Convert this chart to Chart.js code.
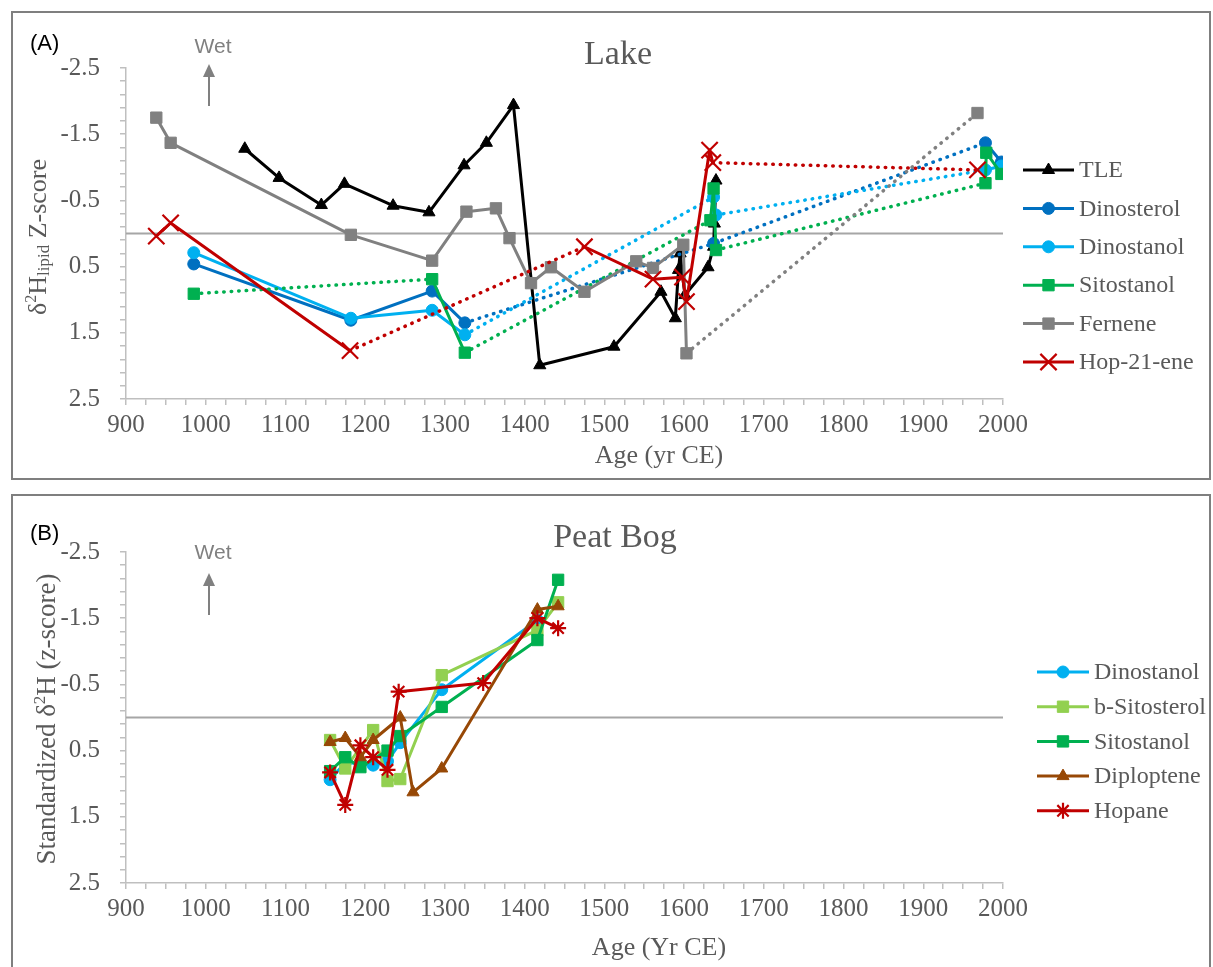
<!DOCTYPE html>
<html lang="en">
<head>
<meta charset="UTF-8">
<title>Lake and Peat Bog lipid δ2H z-scores</title>
<script src="https://cdn.jsdelivr.net/npm/chart.js@4"></script>
<style>
  body { margin: 0; background: #fff; width: 1213px; height: 967px; overflow: hidden; position: relative; }
  .box { position: absolute; border: 2px solid #7f7f7f; box-sizing: border-box; }
  canvas { position: absolute; }
</style>
</head>
<body>
<div class="box" style="left:11px;top:11px;width:1200px;height:469px"></div>
<div class="box" style="left:11px;top:494px;width:1200px;height:490px"></div>
<canvas id="lake" width="1195" height="463" style="left:13px;top:13px"></canvas>
<canvas id="peat" width="1195" height="471" style="left:13px;top:496px"></canvas>
<script>
// ---- panel A: Lake ----
const tleAge = [1049, 1092, 1145, 1174, 1235, 1280, 1324, 1352, 1386, 1419, 1512, 1571, 1589, 1593, 1595, 1601, 1630, 1637, 1638, 1640];
const tleZ   = [-1.28, -0.84, -0.43, -0.75, -0.42, -0.32, -1.03, -1.37, -1.94, 1.99, 1.71, 0.88, 1.28, 0.55, 0.30, 0.93, 0.51, 0.20, -0.15, -0.80];

const dinosterolAge = [985, 1182, 1284, 1325, 1637, 1978, 1998];
const dinosterolZ   = [0.46, 1.31, 0.87, 1.35, 0.15, -1.37, -1.08];
const dinosterolDots = [3, 4];

const dinostanolAge = [985, 1182, 1284, 1325, 1637, 1640, 1978, 1998];
const dinostanolZ   = [0.29, 1.28, 1.16, 1.53, -0.55, -0.28, -0.96, -1.02];
const dinostanolDots = [3, 5];

const sitostanolAge = [985, 1284, 1325, 1633, 1637, 1640, 1978, 1979, 1998];
const sitostanolZ   = [0.91, 0.69, 1.80, -0.20, -0.68, 0.25, -0.76, -1.22, -0.90];
const sitostanolDots = [0, 2, 5];

const ferneneAge = [938, 956, 1182, 1284, 1327, 1364, 1381, 1408, 1433, 1475, 1540, 1561, 1599, 1603, 1968];
const ferneneZ   = [-1.75, -1.37, 0.02, 0.41, -0.33, -0.38, 0.07, 0.75, 0.51, 0.88, 0.42, 0.52, 0.17, 1.81, -1.82];
const ferneneDots = [13];

const hopeneAge = [938, 956, 1181, 1475, 1561, 1598, 1603, 1632, 1636, 1968];
const hopeneZ   = [0.04, -0.16, 1.77, 0.20, 0.69, 0.66, 1.03, -1.26, -1.07, -0.96];
const hopeneDots = [2, 8];

// ---- panel B: Peat Bog ----
const bDinostanolAge = [1156, 1175, 1194, 1210, 1228, 1244, 1296, 1416];
const bDinostanolZ   = [0.94, 0.68, 0.70, 0.72, 0.66, 0.38, -0.42, -1.47];

const bSitosterolAge = [1156, 1175, 1210, 1228, 1244, 1296, 1416, 1442];
const bSitosterolZ   = [0.34, 0.77, 0.19, 0.96, 0.93, -0.64, -1.32, -1.74];

const bSitostanolAge = [1156, 1175, 1194, 1228, 1244, 1296, 1416, 1442];
const bSitostanolZ   = [0.81, 0.60, 0.75, 0.50, 0.28, -0.16, -1.17, -2.08];

const diplopteneAge = [1156, 1175, 1194, 1210, 1244, 1260, 1296, 1416, 1442];
const diplopteneZ   = [0.37, 0.31, 0.60, 0.34, 0.00, 1.13, 0.77, -1.63, -1.68];

const hopaneAge = [1156, 1175, 1194, 1210, 1228, 1242, 1348, 1416, 1442];
const hopaneZ   = [0.83, 1.32, 0.42, 0.60, 0.79, -0.39, -0.52, -1.50, -1.35];

// axis ranges
const ageMin = 900, ageMax = 2000, ageStep = 25, ageLabelStep = 100;
const zMin = -2.5, zMax = 2.5, zStep = 0.2;

const SERIF = '"Liberation Serif", "Times New Roman", serif';
const SANS = '"Liberation Sans", Arial, sans-serif';
const TXT = '#595959';

function pts(xs, ys) {
  return xs.map((x, i) => ({ x: x, y: ys[i] }));
}

function series(label, xs, ys, color, style, radius, dots) {
  const d = dots || [];
  return {
    label: label,
    data: pts(xs, ys),
    borderColor: color,
    backgroundColor: color,
    borderWidth: 3,
    pointStyle: style,
    pointRadius: radius,
    pointBorderWidth: style === 'crossRot' || style === 'star' ? 2.2 : 1,
    pointHoverRadius: radius,
    tension: 0,
    borderJoinStyle: 'round',
    borderCapStyle: 'round',
    segment: {
      // dotted joins between sample groups
      borderDash: c => d.includes(c.p0DataIndex) ? [0.5, 7] : undefined,
      borderWidth: c => d.includes(c.p0DataIndex) ? 3.5 : undefined
    }
  };
}

function drawParts(ctx, cx, cy, parts) {
  // parts drawn along a rotated (-90deg) baseline, centred on (cx, cy)
  ctx.save();
  ctx.translate(cx, cy);
  ctx.rotate(-Math.PI / 2);
  ctx.textBaseline = 'middle';
  ctx.textAlign = 'left';
  let w = 0;
  parts.forEach(p => { ctx.font = p.size + 'px ' + SERIF; p.w = ctx.measureText(p.t).width; w += p.w; });
  let x = -w / 2;
  parts.forEach(p => { ctx.font = p.size + 'px ' + SERIF; ctx.fillText(p.t, x, p.dy); x += p.w; });
  ctx.restore();
}

function decoPlugin(o) {
  return {
    id: 'deco',
    beforeDatasetsDraw(chart) {
      const ctx = chart.ctx, a = chart.chartArea;
      const y0 = chart.scales.y.getPixelForValue(0);
      ctx.save();
      ctx.strokeStyle = '#a6a6a6';
      ctx.lineWidth = 2;
      ctx.beginPath();
      ctx.moveTo(a.left, y0);
      ctx.lineTo(a.right, y0);
      ctx.stroke();
      ctx.restore();
    },
    afterDraw(chart) {
      const ctx = chart.ctx;
      ctx.save();
      ctx.fillStyle = TXT;
      // chart title
      ctx.font = '34px ' + SERIF;
      ctx.textAlign = 'center';
      ctx.textBaseline = 'middle';
      ctx.fillText(o.title, o.titleX, o.titleY);
      // panel letter
      ctx.fillStyle = '#000';
      ctx.font = '22px ' + SANS;
      ctx.textAlign = 'left';
      ctx.fillText(o.letter, o.letterX, o.letterY);
      // Wet arrow
      ctx.fillStyle = '#808080';
      ctx.strokeStyle = '#808080';
      ctx.font = '21px ' + SANS;
      ctx.textAlign = 'center';
      ctx.fillText('Wet', o.wetX + 4, o.wetY);
      ctx.lineWidth = 2;
      ctx.beginPath();
      ctx.moveTo(o.wetX, o.arrowTail);
      ctx.lineTo(o.wetX, o.arrowTip + 10);
      ctx.stroke();
      ctx.beginPath();
      ctx.moveTo(o.wetX, o.arrowTip);
      ctx.lineTo(o.wetX - 6, o.arrowTip + 13);
      ctx.lineTo(o.wetX + 6, o.arrowTip + 13);
      ctx.closePath();
      ctx.fill();
      // axis titles
      ctx.fillStyle = TXT;
      ctx.font = '26px ' + SERIF;
      ctx.textBaseline = 'middle';
      ctx.fillText(o.xTitle, o.xTitleX, o.xTitleY);
      drawParts(ctx, o.yTitleX, o.yTitleY, o.yTitle);
      // legend: line with marker, then label
      chart.data.datasets.forEach((ds, i) => {
        const y = o.legTop + i * o.legStep;
        ctx.strokeStyle = ds.borderColor;
        ctx.fillStyle = ds.backgroundColor;
        ctx.lineWidth = 3;
        ctx.setLineDash([]);
        ctx.beginPath();
        ctx.moveTo(o.legX0, y);
        ctx.lineTo(o.legX1, y);
        ctx.stroke();
        ctx.lineWidth = ds.pointBorderWidth;
        Chart.helpers.drawPoint(ctx, {
          pointStyle: ds.pointStyle, radius: ds.pointRadius, rotation: 0, borderWidth: ds.pointBorderWidth
        }, (o.legX0 + o.legX1) / 2, y);
        ctx.fillStyle = TXT;
        ctx.font = '24px ' + SERIF;
        ctx.textAlign = 'left';
        ctx.textBaseline = 'middle';
        ctx.fillText(ds.label, o.legX1 + 5, y + 1);
      });
      ctx.restore();
    }
  };
}

function makeChart(id, datasets, o) {
  const n = datasets.length;
  datasets.forEach((ds, i) => { ds.order = n - i; });  // later series on top
  return new Chart(document.getElementById(id), {
    type: 'line',
    data: { datasets: datasets },
    options: {
      responsive: false,
      animation: false,
      events: [],
      layout: { padding: { left: 0, top: o.padTop, right: o.padRight, bottom: 0 } },
      plugins: { legend: { display: false }, tooltip: { enabled: false }, title: { display: false } },
      scales: {
        x: {
          type: 'linear',
          min: ageMin, max: ageMax,
          afterFit: s => { s.height = o.xHeight; },
          border: { color: '#bfbfbf', width: 1.5 },
          grid: { drawOnChartArea: false, drawTicks: true, tickLength: 6, color: '#bfbfbf', lineWidth: 1.5 },
          ticks: {
            stepSize: ageStep, autoSkip: false, maxRotation: 0, minRotation: 0, padding: 5,
            color: TXT, font: { family: SERIF, size: 25 },
            callback: v => (v % ageLabelStep === 0 ? String(v) : '')
          }
        },
        y: {
          type: 'linear',
          reverse: true,
          min: zMin, max: zMax,
          afterFit: s => { s.width = o.yWidth; },
          border: { color: '#bfbfbf', width: 1.5 },
          grid: { drawOnChartArea: false, drawTicks: true, tickLength: 6, color: '#bfbfbf', lineWidth: 1.5 },
          ticks: {
            stepSize: zStep, autoSkip: false, padding: 20,
            color: TXT, font: { family: SERIF, size: 25 },
            callback: v => {
              const k = v - zMin;
              return Math.abs(k - Math.round(k)) < 1e-6 ? v.toFixed(1) : '';
            }
          }
        }
      }
    },
    plugins: [decoPlugin(o)]
  });
}

makeChart('lake', [
  series('TLE', tleAge, tleZ, '#000000', 'triangle', 7),
  series('Dinosterol', dinosterolAge, dinosterolZ, '#0070C0', 'circle', 6, dinosterolDots),
  series('Dinostanol', dinostanolAge, dinostanolZ, '#00B0F0', 'circle', 6, dinostanolDots),
  series('Sitostanol', sitostanolAge, sitostanolZ, '#00B050', 'rect', 8, sitostanolDots),
  series('Fernene', ferneneAge, ferneneZ, '#808080', 'rect', 8, ferneneDots),
  series('Hop-21-ene', hopeneAge, hopeneZ, '#C00000', 'crossRot', 11.5, hopeneDots)
], {
  padTop: 55, padRight: 205, xHeight: 77, yWidth: 113,
  title: 'Lake', titleX: 605, titleY: 42,
  letter: '(A)', letterX: 17, letterY: 31,
  wetX: 196, wetY: 34, arrowTip: 51, arrowTail: 93,
  xTitle: 'Age (yr CE)', xTitleX: 646, xTitleY: 443,
  yTitleX: 26, yTitleY: 224,
  yTitle: [
    { t: 'δ', size: 26, dy: 0 }, { t: '2', size: 16, dy: -7 }, { t: 'H', size: 26, dy: 0 },
    { t: 'lipid', size: 17, dy: 6 }, { t: ' Z-score', size: 26, dy: 0 }
  ],
  legTop: 157, legStep: 38.4, legX0: 1010, legX1: 1061
});

makeChart('peat', [
  series('Dinostanol', bDinostanolAge, bDinostanolZ, '#00B0F0', 'circle', 6),
  series('b-Sitosterol', bSitosterolAge, bSitosterolZ, '#92D050', 'rect', 8),
  series('Sitostanol', bSitostanolAge, bSitostanolZ, '#00B050', 'rect', 8),
  series('Diploptene', diplopteneAge, diplopteneZ, '#974806', 'triangle', 7),
  series('Hopane', hopaneAge, hopaneZ, '#C00000', 'star', 8)
], {
  padTop: 56, padRight: 205, xHeight: 84, yWidth: 113,
  title: 'Peat Bog', titleX: 602, titleY: 42,
  letter: '(B)', letterX: 17, letterY: 38,
  wetX: 196, wetY: 57, arrowTip: 77, arrowTail: 119,
  xTitle: 'Age (Yr CE)', xTitleX: 646, xTitleY: 452,
  yTitleX: 35, yTitleY: 223,
  yTitle: [
    { t: 'Standardized δ', size: 27, dy: 0 }, { t: '2', size: 17, dy: -7 }, { t: 'H (z-score)', size: 27, dy: 0 }
  ],
  legTop: 176, legStep: 34.7, legX0: 1024, legX1: 1076
});
</script>
</body>
</html>
